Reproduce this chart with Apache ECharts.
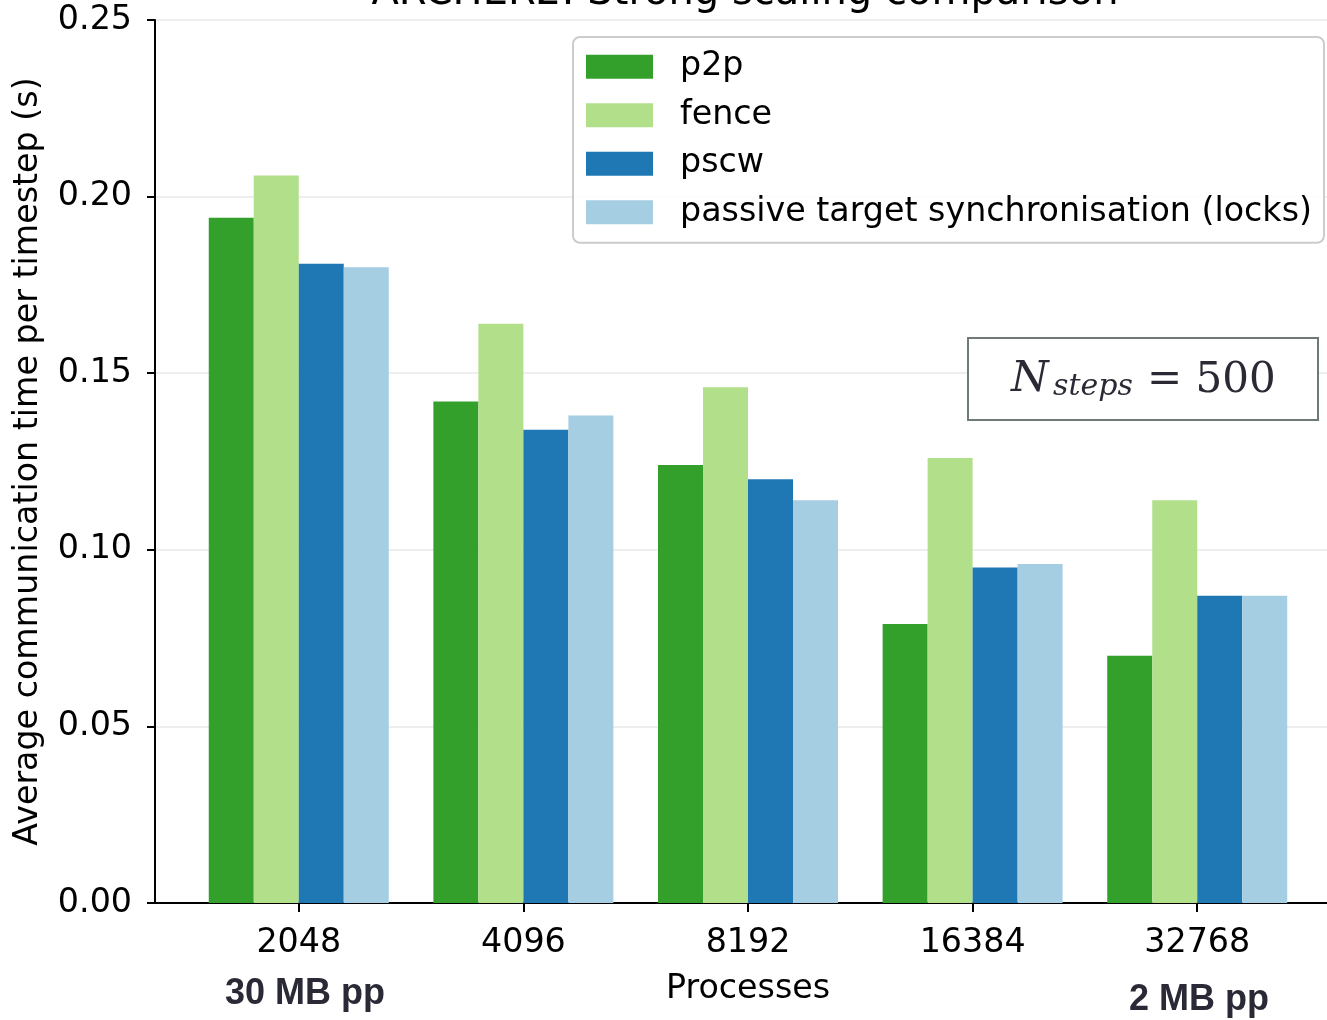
<!DOCTYPE html>
<html>
<head>
<meta charset="utf-8">
<script src="https://cdn.jsdelivr.net/npm/echarts@6/dist/echarts.min.js"></script>
<style>
  html, body { margin: 0; padding: 0; background: #ffffff; }
  #chart { width: 1327px; height: 1020px; }
</style>
</head>
<body>
<div id="chart"></div>
<script>
// Process counts on the x axis
const categories = ['2048', '4096', '8192', '16384', '32768'];

// Average communication time per timestep (s) for each synchronisation mode
const p2p   = [0.194, 0.142, 0.124, 0.079, 0.070];
const fence = [0.206, 0.164, 0.146, 0.126, 0.114];
const pscw  = [0.181, 0.134, 0.120, 0.095, 0.087];
const locks = [0.180, 0.138, 0.114, 0.096, 0.087];

const seriesNames = ['p2p', 'fence', 'pscw', 'passive target synchronisation (locks)'];
const seriesColors = ['#33a02c', '#b2df8a', '#1f78b4', '#a6cee3'];
const seriesValues = [p2p, fence, pscw, locks];

const SANS = '"DejaVu Sans", sans-serif';
const SERIF = '"DejaVu Serif", serif';
const BOLD_SANS = '"Liberation Sans", Arial, sans-serif';
const FS = 33.3;

const chart = echarts.init(document.getElementById('chart'), null, { renderer: 'canvas' });

const catPositions = categories.map((c, i) => i);

const option = {
  backgroundColor: '#ffffff',
  animation: false,
  grid: {
    left: 155, right: -14, top: 20, bottom: 117,
    outerBoundsMode: 'none',
    containLabel: false,
    show: true, borderColor: '#000000', borderWidth: 2, backgroundColor: 'transparent'
  },
  legend: {
    orient: 'vertical',
    left: 573, top: 37,
    padding: [13, 12, 14, 13],
    itemGap: 15.2,
    itemWidth: 67, itemHeight: 24,
    icon: 'rect',
    borderColor: '#cccccc', borderWidth: 2, borderRadius: 7,
    backgroundColor: 'rgba(255,255,255,0.85)',
    textStyle: { fontFamily: SANS, fontSize: FS, color: '#000000', lineHeight: FS, padding: [0, 0, 0, 22] },
    data: seriesNames
  },
  xAxis: {
    type: 'value',
    min: -0.64, max: 4.64,
    name: 'Processes',
    nameLocation: 'middle',
    nameGap: 70,
    nameTextStyle: { fontFamily: SANS, fontSize: FS, color: '#000000' },
    axisLine: { show: true, onZero: false, lineStyle: { color: '#000000', width: 2 } },
    axisTick: { show: true, length: 9, lineStyle: { color: '#000000', width: 2 }, customValues: catPositions },
    axisLabel: {
      customValues: catPositions,
      margin: 24,
      fontFamily: SANS, fontSize: FS, color: '#000000',
      formatter: v => categories[Math.round(v)]
    },
    splitLine: { show: false }
  },
  yAxis: {
    type: 'value',
    min: 0, max: 0.25, interval: 0.05,
    name: 'Average communication time per timestep (s)',
    nameLocation: 'middle',
    nameGap: 110,
    nameTextStyle: { fontFamily: SANS, fontSize: FS, color: '#000000' },
    axisLine: { show: true, onZero: false, lineStyle: { color: '#000000', width: 2 } },
    axisTick: { show: true, length: 8, lineStyle: { color: '#000000', width: 2 } },
    axisLabel: {
      margin: 23,
      padding: [4, 0, 0, 0],
      fontFamily: SANS, fontSize: FS, color: '#000000',
      formatter: v => v.toFixed(2)
    },
    splitLine: { show: true, lineStyle: { color: '#eeeeee', width: 2 } }
  },
  series: seriesNames.map((name, k) => ({
    name: name,
    type: 'bar',
    barWidth: 45,
    barGap: '0%',
    itemStyle: { color: seriesColors[k] },
    data: seriesValues[k].map((v, i) => [catPositions[i], v])
  })),
  graphic: [
    {
      type: 'text', x: 745, y: -6,
      style: {
        text: 'ARCHER2: Strong scaling comparison',
        fontFamily: SANS, fontSize: 40, fill: '#000000',
        align: 'center', verticalAlign: 'middle'
      }
    },
    {
      type: 'text', x: 305, y: 994,
      style: {
        text: '30 MB pp', fontFamily: BOLD_SANS, fontWeight: 'bold', fontSize: 36,
        fill: '#2a2a36', align: 'center', verticalAlign: 'middle'
      }
    },
    {
      type: 'text', x: 1199, y: 1000,
      style: {
        text: '2 MB pp', fontFamily: BOLD_SANS, fontWeight: 'bold', fontSize: 36,
        fill: '#2a2a36', align: 'center', verticalAlign: 'middle'
      }
    },
    {
      type: 'rect', z: 10,
      shape: { x: 968, y: 338, width: 350, height: 82 },
      style: { fill: '#ffffff', stroke: '#707a74', lineWidth: 2 }
    },
    {
      type: 'text', z: 11, x: 1011, y: 380,
      style: {
        text: 'N', fontFamily: SERIF, fontStyle: 'italic', fontSize: 43,
        fill: '#2a2a35', align: 'left', verticalAlign: 'middle'
      }
    },
    {
      type: 'text', z: 11, x: 1053, y: 387,
      style: {
        text: 'steps', fontFamily: SERIF, fontStyle: 'italic', fontSize: 30,
        fill: '#2a2a35', align: 'left', verticalAlign: 'middle'
      }
    },
    {
      type: 'text', z: 11, x: 1147, y: 381,
      style: {
        text: '= 500', fontFamily: SERIF, fontSize: 42,
        fill: '#2a2a35', align: 'left', verticalAlign: 'middle'
      }
    }
  ]
};

chart.setOption(option);
</script>
</body>
</html>
